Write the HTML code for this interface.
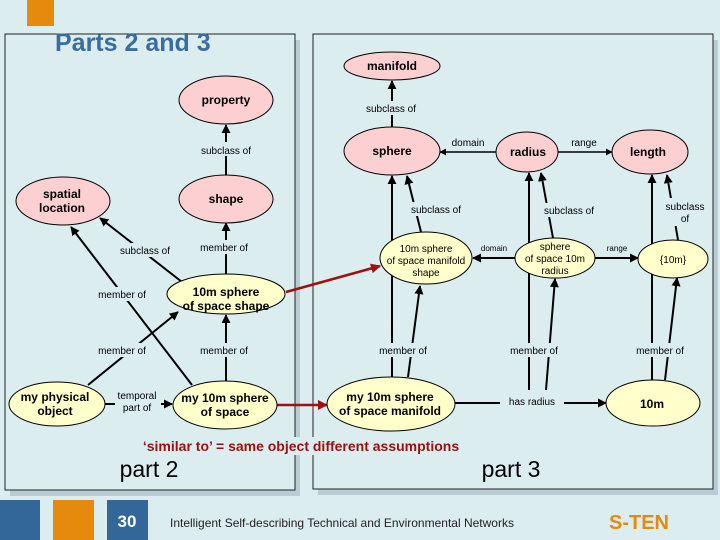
<!DOCTYPE html>
<html><head><meta charset="utf-8"><style>
html,body{margin:0;padding:0;background:#dcedef;}
svg{display:block;font-family:"Liberation Sans",sans-serif;}
</style></head><body>
<svg width="720" height="540" viewBox="0 0 720 540" xmlns="http://www.w3.org/2000/svg">
<defs>
<marker id="a" viewBox="0 0 10 10" refX="9" refY="5" markerWidth="4.5" markerHeight="4.5" orient="auto-start-reverse"><path d="M0,0L10,5L0,10z" fill="#000"/></marker>
<marker id="r" viewBox="0 0 10 10" refX="9" refY="5" markerWidth="4" markerHeight="4" orient="auto"><path d="M0,0L10,5L0,10z" fill="#a01010"/></marker>
</defs>
<rect width="720" height="540" fill="#dcedef"/>
<rect x="27" y="0" width="27" height="26" fill="#e58a0c"/>
<rect x="10" y="40" width="290" height="456" fill="#b9ccd3"/>
<rect x="5" y="34" width="290" height="456" fill="#dcedef" stroke="#222" stroke-width="1"/>
<rect x="318" y="40" width="400" height="455" fill="#b9ccd3"/>
<rect x="313" y="34" width="400" height="455" fill="#dcedef" stroke="#222" stroke-width="1"/>
<text x="55" y="51" font-size="25" font-weight="bold" fill="#3a6c9c">Parts 2 and 3</text>

<g stroke="#000" stroke-width="2" fill="none">
<line x1="226" y1="175" x2="226" y2="125" marker-end="url(#a)"/>
<line x1="226" y1="274" x2="226" y2="223" marker-end="url(#a)"/>
<line x1="182" y1="282" x2="100" y2="218" marker-end="url(#a)"/>
<line x1="192" y1="385" x2="71" y2="227" marker-end="url(#a)"/>
<line x1="88" y1="385" x2="178" y2="312" marker-end="url(#a)"/>
<line x1="226" y1="381" x2="226" y2="315" marker-end="url(#a)"/>
<line x1="105" y1="404" x2="172" y2="404" marker-end="url(#a)"/>
<line x1="392" y1="127" x2="392" y2="81" marker-end="url(#a)"/>
<line x1="497" y1="152" x2="440" y2="152" stroke-width="1.5" marker-end="url(#a)"/>
<line x1="558" y1="152" x2="612" y2="152" stroke-width="1.5" marker-end="url(#a)"/>
<line x1="392" y1="377" x2="392" y2="176" marker-end="url(#a)"/>
<line x1="421" y1="232" x2="407" y2="176" marker-end="url(#a)"/>
<line x1="408" y1="377" x2="420" y2="286" marker-end="url(#a)"/>
<line x1="529" y1="390" x2="529" y2="173" marker-end="url(#a)"/>
<line x1="553" y1="238" x2="541" y2="173" marker-end="url(#a)"/>
<line x1="546" y1="390" x2="555" y2="279" marker-end="url(#a)"/>
<line x1="515" y1="258" x2="473" y2="258" marker-end="url(#a)"/>
<line x1="594" y1="258" x2="638" y2="258" marker-end="url(#a)"/>
<line x1="652" y1="380" x2="652" y2="175" marker-end="url(#a)"/>
<line x1="678" y1="240" x2="667" y2="175" marker-end="url(#a)"/>
<line x1="665" y1="380" x2="677" y2="278" marker-end="url(#a)"/>
<line x1="455" y1="403" x2="606" y2="403" marker-end="url(#a)"/>
</g>
<g stroke="#a01010" stroke-width="2.5">
<line x1="286" y1="292" x2="380" y2="266" marker-end="url(#r)"/>
<line x1="277" y1="405" x2="327" y2="405" marker-end="url(#r)"/>
</g>

<g fill="#dcedef">
<rect x="196" y="142" width="60" height="14"/>
<rect x="196" y="240" width="56" height="14"/>
<rect x="114" y="243" width="62" height="14"/>
<rect x="94" y="287" width="56" height="14"/>
<rect x="94" y="343" width="56" height="14"/>
<rect x="196" y="343" width="56" height="14"/>
<rect x="115" y="388" width="46" height="26"/>
<rect x="360" y="101" width="62" height="14"/>
<rect x="375" y="343" width="56" height="14"/>
<rect x="405" y="202" width="62" height="14"/>
<rect x="539" y="203" width="62" height="14"/>
<rect x="506" y="343" width="56" height="14"/>
<rect x="632" y="343" width="56" height="14"/>
<rect x="662" y="198" width="50" height="28"/>
<rect x="500" y="394" width="64" height="16"/>
<rect x="140" y="437" width="324" height="18"/>
</g>

<g stroke="#000" stroke-width="1">
<ellipse cx="226" cy="100" rx="47" ry="24" fill="#fcd0d0"/>
<ellipse cx="226" cy="199" rx="47" ry="24" fill="#fcd0d0"/>
<ellipse cx="63" cy="201" rx="47" ry="24" fill="#fcd0d0"/>
<ellipse cx="226" cy="294" rx="59" ry="20" fill="#ffffcc"/>
<ellipse cx="225" cy="405" rx="52" ry="24" fill="#ffffcc"/>
<ellipse cx="57" cy="404" rx="48" ry="22" fill="#ffffcc"/>
<ellipse cx="392" cy="66" rx="48" ry="14" fill="#fcd0d0"/>
<ellipse cx="392" cy="151" rx="48" ry="24" fill="#fcd0d0"/>
<ellipse cx="527" cy="152" rx="31" ry="20" fill="#fcd0d0"/>
<ellipse cx="650" cy="152" rx="38" ry="22" fill="#fcd0d0"/>
<ellipse cx="426" cy="258" rx="46" ry="26" fill="#ffffcc"/>
<ellipse cx="555" cy="258" rx="40" ry="20" fill="#ffffcc"/>
<ellipse cx="673" cy="259" rx="35" ry="19" fill="#ffffcc"/>
<ellipse cx="391" cy="404" rx="64" ry="27" fill="#ffffcc"/>
<ellipse cx="653" cy="403" rx="47" ry="23" fill="#ffffcc"/>
</g>

<g font-size="12" font-weight="bold" text-anchor="middle" fill="#000">
<text x="226" y="104">property</text>
<text x="226" y="203">shape</text>
<text x="62" y="198">spatial</text><text x="62" y="212">location</text>
<text x="226" y="296">10m sphere</text><text x="226" y="310">of space shape</text>
<text x="225" y="402">my 10m sphere</text><text x="225" y="416">of space</text>
<text x="55" y="401">my physical</text><text x="55" y="415">object</text>
<text x="392" y="70">manifold</text>
<text x="392" y="155">sphere</text>
<text x="528" y="156">radius</text>
<text x="648" y="156">length</text>
<text x="390" y="401">my 10m sphere</text><text x="390" y="415">of space manifold</text>
<text x="652" y="408">10m</text>
</g>
<g font-size="10" text-anchor="middle" fill="#000">
<text x="426" y="252">10m sphere</text><text x="426" y="264">of space manifold</text><text x="426" y="276">shape</text>
<text x="555" y="250">sphere</text><text x="555" y="262">of space 10m</text><text x="555" y="274">radius</text>
<text x="673" y="263">{10m}</text>
<text x="226" y="154">subclass of</text>
<text x="224" y="251">member of</text>
<text x="145" y="254">subclass of</text>
<text x="122" y="298">member of</text>
<text x="122" y="354">member of</text>
<text x="224" y="354">member of</text>
<text x="137" y="399">temporal</text><text x="137" y="411">part of</text>
<text x="391" y="112">subclass of</text>
<text x="468" y="146">domain</text>
<text x="584" y="146">range</text>
<text x="436" y="213">subclass of</text>
<text x="569" y="214">subclass of</text>
<text x="685" y="210">subclass</text><text x="685" y="222">of</text>
<text x="403" y="354">member of</text>
<text x="534" y="354">member of</text>
<text x="660" y="354">member of</text>
<text x="532" y="405">has radius</text>
</g>
<g font-size="8" text-anchor="middle"><text x="494" y="251">domain</text><text x="617" y="251">range</text></g>

<text x="301" y="451" font-size="14" font-weight="bold" fill="#9a1010" text-anchor="middle">‘similar to’ = same object different assumptions</text>
<text x="149" y="477" font-size="23" text-anchor="middle">part 2</text>
<text x="511" y="477" font-size="23" text-anchor="middle">part 3</text>

<rect x="0" y="500" width="40" height="40" fill="#336699"/>
<rect x="53" y="500" width="41" height="40" fill="#e58a0c"/>
<rect x="107" y="500" width="41" height="40" fill="#336699"/>
<text x="127" y="527" font-size="17" font-weight="bold" fill="#fff" text-anchor="middle">30</text>
<text x="170" y="527" font-size="12" fill="#222">Intelligent Self-describing Technical and Environmental Networks</text>
<text x="639" y="529" font-size="20" font-weight="bold" fill="#e58a0c" text-anchor="middle">S-TEN</text>
</svg>
</body></html>
